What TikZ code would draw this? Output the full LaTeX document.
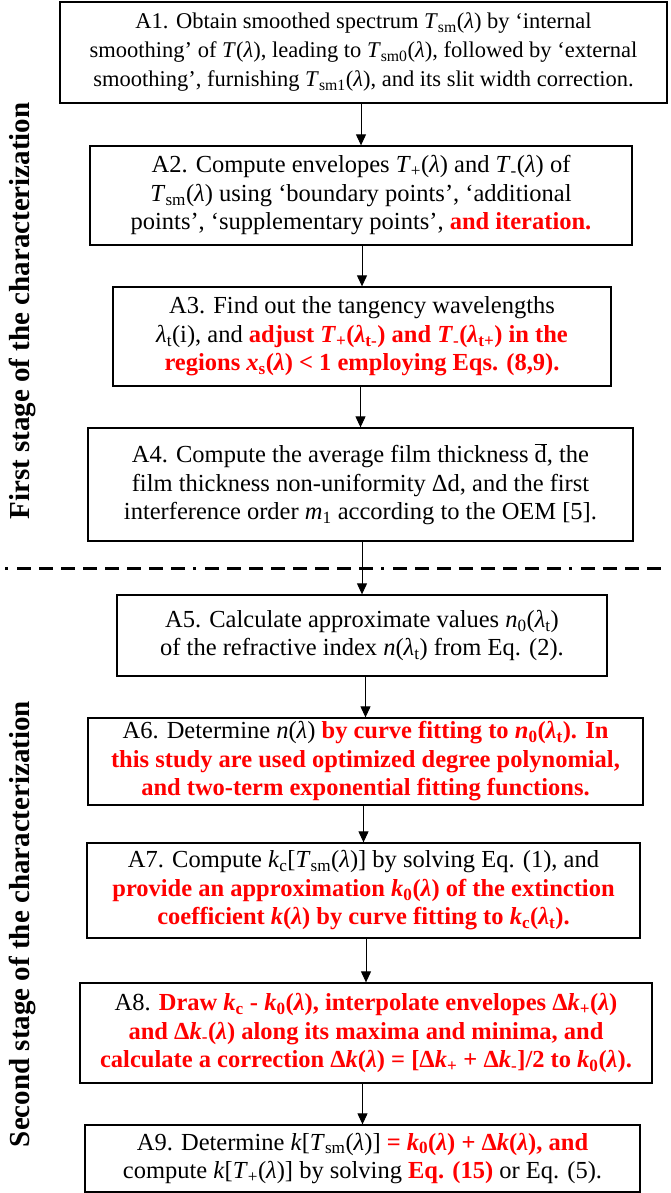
\documentclass[tikz,border=0pt]{standalone}
\usepackage{fontspec}
\setmainfont{Liberation Serif}
\usetikzlibrary{arrows.meta}
\definecolor{hl}{RGB}{255,0,0}
\newcommand{\lam}{\textit{λ}}
\newcommand{\vT}{\textit{T}}
\newcommand{\sub}[1]{\textsubscript{#1}}
\newcommand{\hr}[1]{{\color{hl}\bfseries #1}}
\newcommand{\dbar}{\ensuremath{\overline{\hbox{d}}}}
\begin{document}
\begin{tikzpicture}[x=1pt,y=1pt,
  box/.style={draw=black, line width=1.3pt, inner sep=0pt, align=center,
    font=\fontsize{24.5}{28.5}\selectfont},
  arr/.style={line width=1pt, -{Triangle[length=11pt,width=10pt]}},
  side/.style={rotate=90, font=\fontsize{29}{32}\selectfont\bfseries}]
\useasboundingbox (0,0) rectangle (671,-1193);

\node[box, minimum width=607, minimum height=101, font=\fontsize{22.5}{29}\selectfont] (a1) at (363.5,-52.5)
 {A1. Obtain smoothed spectrum \vT\sub{sm}(\lam) by ‘internal\\
  smoothing’ of \vT(\lam), leading to \vT\sub{sm0}(\lam), followed by ‘external\\
  smoothing’, furnishing \vT\sub{sm1}(\lam), and its slit width correction.};

\node[box, minimum width=542, minimum height=99] (a2) at (361,-195.5)
 {A2. Compute envelopes \vT\sub{+}(\lam) and \vT\sub{-}(\lam) of\\
  \vT\sub{sm}(\lam) using ‘boundary points’, ‘additional\\
  points’, ‘supplementary points’, \hr{and iteration.}};

\node[box, minimum width=498, minimum height=99] (a3) at (362,-336.5)
 {A3. Find out the tangency wavelengths\\
  \lam\sub{t}(i), and \hr{adjust \textit{T}\sub{+}(\textit{λ}\sub{t-}) and \textit{T}\sub{-}(\textit{λ}\sub{t+}) in the}\\
  \hr{regions \textit{x}\sub{s}(\textit{λ}) < 1 employing Eqs. (8,9).}};

\node[box, minimum width=545, minimum height=113] (a4) at (360.5,-484.5)
 {A4. Compute the average film thickness \dbar, the\\
  film thickness non-uniformity Δd, and the first\\
  interference order \textit{m}\sub{1} according to the OEM [5].};

\node[box, minimum width=490, minimum height=81] (a5) at (362,-635.5)
 {A5. Calculate approximate values \textit{n}\sub{0}(\lam\sub{t})\\
  of the refractive index \textit{n}(\lam\sub{t}) from Eq. (2).};

\node[box, minimum width=555, minimum height=87] (a6) at (365.5,-761.5)
 {A6. Determine \textit{n}(\lam) \hr{by curve fitting to \textit{n}\sub{0}(\textit{λ}\sub{t}). In}\\
  \hr{this study are used optimized degree polynomial,}\\
  \hr{and two-term exponential fitting functions.}};

\node[box, minimum width=553, minimum height=95] (a7) at (363.5,-890.5)
 {A7. Compute \textit{k}\sub{c}[\vT\sub{sm}(\lam)] by solving Eq. (1), and\\
  \hr{provide an approximation \textit{k}\sub{0}(\textit{λ}) of the extinction}\\
  \hr{coefficient \textit{k}(\textit{λ}) by curve fitting to \textit{k}\sub{c}(\textit{λ}\sub{t}).}};

\node[box, minimum width=572, minimum height=100] (a8) at (366,-1033)
 {A8. \hr{Draw \textit{k}\sub{c} - \textit{k}\sub{0}(\textit{λ}), interpolate envelopes Δ\textit{k}\sub{+}(\textit{λ})}\\
  \hr{and Δ\textit{k}\sub{-}(\textit{λ}) along its maxima and minima, and}\\
  \hr{calculate a correction Δ\textit{k}(\textit{λ}) = [Δ\textit{k}\sub{+} + Δ\textit{k}\sub{-}]/2 to \textit{k}\sub{0}(\textit{λ}).}};

\node[box, minimum width=555, minimum height=67] (a9) at (362.5,-1158.5)
 {A9. Determine \textit{k}[\vT\sub{sm}(\lam)] \hr{= \textit{k}\sub{0}(\textit{λ}) + Δ\textit{k}(\textit{λ}), and}\\
  compute \textit{k}[\vT\sub{+}(\lam)] by solving \hr{Eq. (15)} or Eq. (5).};

\foreach \u/\v in {a1/a2,a2/a3,a3/a4,a4/a5,a5/a6,a6/a7,a7/a8,a8/a9}
  \draw[arr] (\v.north |- \u.south) -- (\v.north);

\coordinate (dl) at (5,-568);
\coordinate (dr) at (664,-568);
\draw[line width=3pt, dash pattern=on 3pt off 9pt on 14pt off 8pt on 14pt off 8pt on 14pt off 8pt on 14pt off 8pt on 14pt off 8pt on 14pt off 8pt on 14pt off 8pt on 14pt off 8pt] (dl) -- (dr);

\node[side] (s1) at (22,-311) {First stage of the characterization};
\node[side] (s2) at (22,-924) {Second stage of the characterization};
\end{tikzpicture}
\end{document}
